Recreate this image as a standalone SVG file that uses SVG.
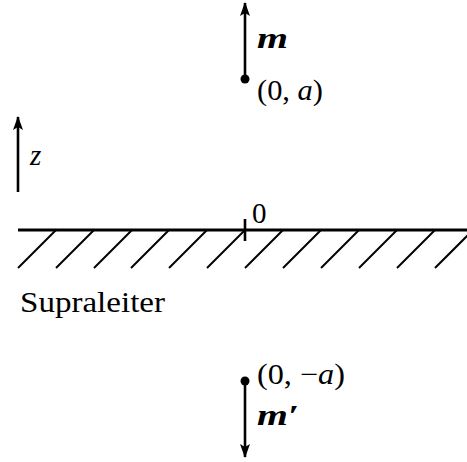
<svg xmlns="http://www.w3.org/2000/svg" width="467" height="462" viewBox="0 0 467 462">
<style>
.ln{stroke:#000;stroke-width:2.6;fill:none}
.hatch{stroke:#000;stroke-width:2;fill:none}
.t{font-family:"Liberation Serif","Times New Roman",serif;font-size:29px;fill:#000}
.i{font-style:italic}
.b{font-weight:bold;font-style:italic}
</style>
<defs>
<marker id="ah" markerWidth="14" markerHeight="10" refX="13" refY="5" orient="auto" markerUnits="userSpaceOnUse">
<path d="M0,0 L14,5 L0,10 L3,5 Z" fill="#000"/>
</marker>
</defs>
<g id="connectors">
<line class="ln" x1="245" y1="79" x2="245" y2="3" marker-end="url(#ah)"/>
<line class="ln" x1="18" y1="192" x2="18" y2="117" marker-end="url(#ah)"/>
<line class="ln" x1="245" y1="381" x2="245" y2="457" marker-end="url(#ah)"/>
</g>
<g id="surface">
<line x1="18" y1="230" x2="467" y2="230" stroke="#000" stroke-width="3"/>
<line x1="245" y1="219" x2="245" y2="241" stroke="#000" stroke-width="2.6"/>
<g class="hatch">
<line x1="18" y1="268" x2="56" y2="230"/>
<line x1="56" y1="268" x2="94" y2="230"/>
<line x1="94" y1="268" x2="132" y2="230"/>
<line x1="131" y1="268" x2="169" y2="230"/>
<line x1="169" y1="268" x2="207" y2="230"/>
<line x1="207" y1="268" x2="245" y2="230"/>
<line x1="245" y1="268" x2="283" y2="230"/>
<line x1="283" y1="268" x2="321" y2="230"/>
<line x1="321" y1="268" x2="359" y2="230"/>
<line x1="359" y1="268" x2="397" y2="230"/>
<line x1="397" y1="268" x2="435" y2="230"/>
<line x1="435" y1="268" x2="473" y2="230"/>
</g>
<text class="t" x="252" y="223">0</text>
</g>
<g id="dipole-m">
<circle cx="245" cy="79" r="4.5" fill="#000"/>
<text class="t b" x="257" y="48" font-size="33" textLength="31" lengthAdjust="spacingAndGlyphs">m</text>
<text class="t" x="257" y="100" textLength="66" lengthAdjust="spacingAndGlyphs">(0, <tspan class="i">a</tspan>)</text>
</g>
<g id="z-axis">
<text class="t i" x="30" y="165" font-size="32">z</text>
</g>
<g id="label">
<text class="t" x="20" y="312" textLength="145" lengthAdjust="spacingAndGlyphs">Supraleiter</text>
</g>
<g id="dipole-mprime">
<circle cx="245" cy="381" r="4.5" fill="#000"/>
<text class="t" x="257" y="384" textLength="88" lengthAdjust="spacingAndGlyphs">(0, −<tspan class="i">a</tspan>)</text>
<text class="t b" x="257" y="425" font-size="33" textLength="42" lengthAdjust="spacingAndGlyphs">m′</text>
</g>
</svg>
